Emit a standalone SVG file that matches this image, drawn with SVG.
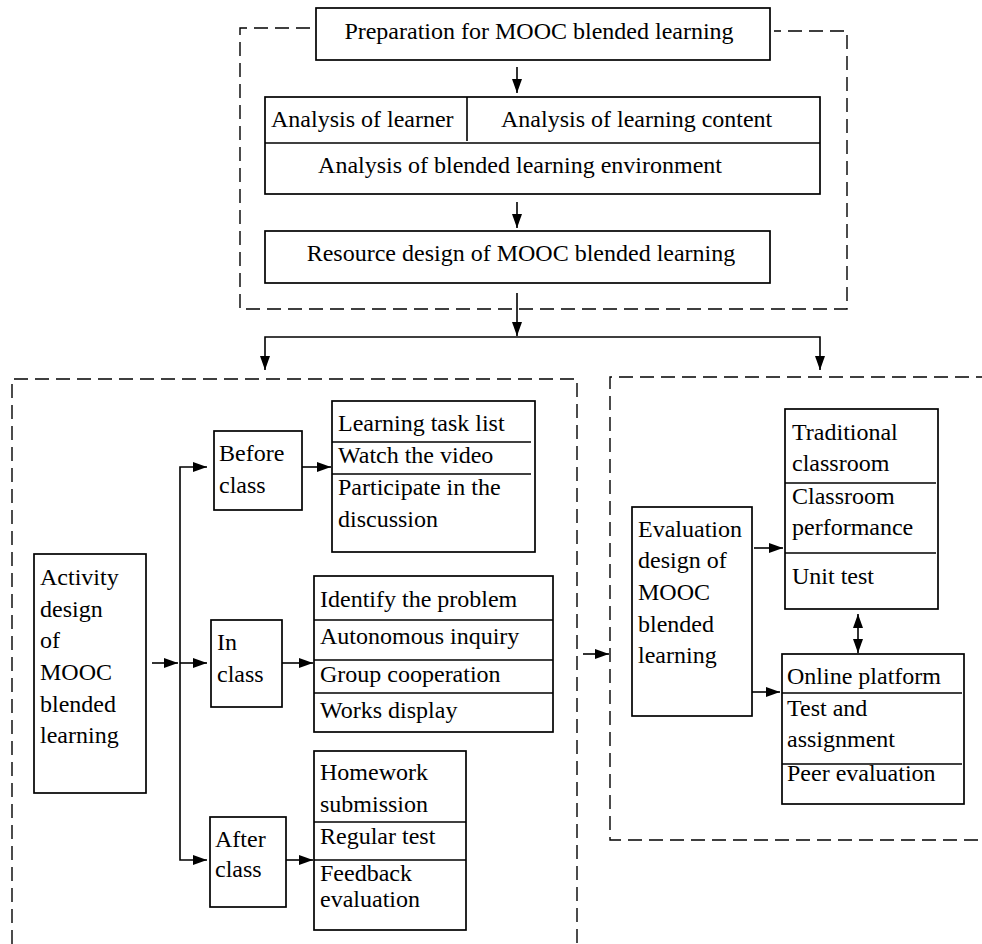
<svg xmlns="http://www.w3.org/2000/svg" width="982" height="944" viewBox="0 0 982 944">
<style>
  .box{fill:#fff;stroke:#000;stroke-width:1.7}
  .div{stroke:#000;stroke-width:1.6;fill:none}
  .frame{fill:none;stroke:#000;stroke-width:1.4;stroke-dasharray:14 7}
  .conn{fill:none;stroke:#000;stroke-width:1.6}
  text{font-family:"Liberation Serif","Times New Roman",serif;font-size:24px;fill:#000}
  .c{text-anchor:middle}
</style>
<defs>
  <marker id="ah" markerUnits="userSpaceOnUse" markerWidth="15" markerHeight="11" refX="14" refY="5" orient="auto-start-reverse">
    <path d="M0,0 L14,5 L0,10 z" fill="#000"/>
  </marker>
</defs>
<rect width="982" height="944" fill="#fff"/>

<g id="frames">
  <path class="frame" d="M310 28 H240 V309 H847 V31 H774"/>
  <path class="frame" d="M12 944 V379 H577 V944"/>
  <path class="frame" d="M990 377 H610 V840 H990"/>
</g>

<g id="prep">
  <rect class="box" x="316" y="8" width="454" height="52"/>
  <text class="c" x="539" y="39">Preparation for MOOC blended learning</text>
</g>

<g id="analysis">
  <rect class="box" x="265" y="97" width="555" height="97"/>
  <line class="div" x1="265" y1="143" x2="820" y2="143"/>
  <line class="div" x1="467" y1="97" x2="467" y2="141"/>
  <text x="271" y="127">Analysis of learner</text>
  <text x="501" y="127">Analysis of learning content</text>
  <text class="c" x="520" y="173">Analysis of blended learning environment</text>
</g>

<g id="resource">
  <rect class="box" x="265" y="231" width="505" height="52"/>
  <text class="c" x="521" y="261">Resource design of MOOC blended learning</text>
</g>

<g id="activity">
  <rect class="box" x="34" y="554" width="112" height="239"/>
  <text x="40" y="585">Activity</text>
  <text x="40" y="617">design</text>
  <text x="40" y="648">of</text>
  <text x="40" y="680">MOOC</text>
  <text x="40" y="712">blended</text>
  <text x="40" y="743">learning</text>
</g>

<g id="before">
  <rect class="box" x="214" y="431" width="88" height="79"/>
  <text x="219" y="461">Before</text>
  <text x="219" y="493">class</text>
</g>

<g id="inclass">
  <rect class="box" x="211" y="620" width="71" height="87"/>
  <text x="217" y="650">In</text>
  <text x="217" y="682">class</text>
</g>

<g id="after">
  <rect class="box" x="210" y="817" width="76" height="90"/>
  <text x="215" y="847">After</text>
  <text x="215" y="877">class</text>
</g>

<g id="before-items">
  <rect class="box" x="332" y="401" width="203" height="151"/>
  <line class="div" x1="332" y1="442" x2="531" y2="442"/>
  <line class="div" x1="332" y1="474" x2="531" y2="474"/>
  <text x="338" y="431">Learning task list</text>
  <text x="338" y="463">Watch the video</text>
  <text x="338" y="495">Participate in the</text>
  <text x="338" y="527">discussion</text>
</g>

<g id="inclass-items">
  <rect class="box" x="314" y="576" width="239" height="156"/>
  <line class="div" x1="314" y1="620" x2="553" y2="620"/>
  <line class="div" x1="314" y1="660" x2="553" y2="660"/>
  <line class="div" x1="314" y1="693" x2="553" y2="693"/>
  <text x="320" y="607">Identify the problem</text>
  <text x="320" y="644">Autonomous inquiry</text>
  <text x="320" y="682">Group cooperation</text>
  <text x="320" y="718">Works display</text>
</g>

<g id="after-items">
  <rect class="box" x="314" y="751" width="152" height="179"/>
  <line class="div" x1="314" y1="822" x2="466" y2="822"/>
  <line class="div" x1="314" y1="860" x2="466" y2="860"/>
  <text x="320" y="780">Homework</text>
  <text x="320" y="812">submission</text>
  <text x="320" y="844">Regular test</text>
  <text x="320" y="881">Feedback</text>
  <text x="320" y="907">evaluation</text>
</g>

<g id="evaluation">
  <rect class="box" x="632" y="507" width="120" height="209"/>
  <text x="638" y="537">Evaluation</text>
  <text x="638" y="568">design of</text>
  <text x="638" y="600">MOOC</text>
  <text x="638" y="632">blended</text>
  <text x="638" y="663">learning</text>
</g>

<g id="traditional">
  <rect class="box" x="785" y="409" width="153" height="200"/>
  <line class="div" x1="785" y1="483" x2="936" y2="483"/>
  <line class="div" x1="785" y1="553" x2="936" y2="553"/>
  <text x="792" y="440">Traditional</text>
  <text x="792" y="471">classroom</text>
  <text x="792" y="504">Classroom</text>
  <text x="792" y="535">performance</text>
  <text x="792" y="584">Unit test</text>
</g>

<g id="online">
  <rect class="box" x="782" y="654" width="182" height="150"/>
  <line class="div" x1="782" y1="693" x2="962" y2="693"/>
  <line class="div" x1="782" y1="764" x2="962" y2="764"/>
  <text x="787" y="684">Online platform</text>
  <text x="787" y="716">Test and</text>
  <text x="787" y="747">assignment</text>
  <text x="787" y="781">Peer evaluation</text>
</g>

<g id="connectors">
  <line class="conn" x1="517" y1="67" x2="517" y2="93" marker-end="url(#ah)"/>
  <line class="conn" x1="517" y1="202" x2="517" y2="228" marker-end="url(#ah)"/>
  <line class="conn" x1="517" y1="293" x2="517" y2="336" marker-end="url(#ah)"/>
  <polyline class="conn" points="265,370 265,337 820,337 820,370" marker-start="url(#ah)" marker-end="url(#ah)"/>
  <line class="conn" x1="152" y1="663" x2="178" y2="663" marker-end="url(#ah)"/>
  <polyline class="conn" points="207,467 180,467 180,860 207,860" marker-start="url(#ah)" marker-end="url(#ah)"/>
  <line class="conn" x1="180" y1="663" x2="207" y2="663" marker-end="url(#ah)"/>
  <line class="conn" x1="302" y1="467" x2="331" y2="467" marker-end="url(#ah)"/>
  <line class="conn" x1="282" y1="663" x2="313" y2="663" marker-end="url(#ah)"/>
  <line class="conn" x1="286" y1="860" x2="313" y2="860" marker-end="url(#ah)"/>
  <line class="conn" x1="583" y1="654" x2="609" y2="654" marker-end="url(#ah)"/>
  <line class="conn" x1="754" y1="548" x2="783" y2="548" marker-end="url(#ah)"/>
  <line class="conn" x1="752" y1="692" x2="780" y2="692" marker-end="url(#ah)"/>
  <line class="conn" x1="858" y1="614" x2="858" y2="653" marker-start="url(#ah)" marker-end="url(#ah)"/>
</g>
</svg>
